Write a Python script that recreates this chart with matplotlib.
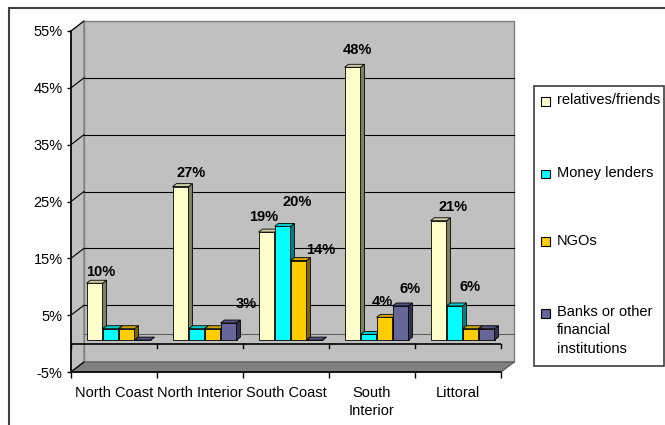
import numpy as np
import matplotlib.pyplot as plt
from matplotlib.patches import Polygon, Rectangle
from matplotlib.lines import Line2D

plt.rcParams['font.family'] = ['Liberation Sans', 'DejaVu Sans']

regions = ['North Coast', 'North Interior', 'South Coast', 'South\nInterior', 'Littoral']
sources = ['relatives/friends', 'Money lenders', 'NGOs',
           'Banks or other\nfinancial\ninstitutions']
relatives = [10, 27, 19, 48, 21]
lenders = [2, 2, 20, 1, 6]
ngos = [2, 2, 14, 4, 2]
banks = [0, 3, 0, 6, 2]
yticks = [-5, 5, 15, 25, 35, 45, 55]

series = [relatives, lenders, ngos, banks]
front = ['#FFFFCC', '#00FFFF', '#FFCC00', '#666699']
top = ['#CCCCA3', '#00CCCC', '#CCA300', '#52527A']
side = ['#808066', '#008080', '#806600', '#333350']

# bars that carry a value label -> label shift in pixels from the bar top
labelled = {(0, 0): (6, 11), (1, 0): (11, 14), (1, 3): (18, 19),
            (2, 0): (-3, 15), (2, 1): (15, 24), (2, 2): (22, 11),
            (3, 0): (5, 17), (3, 2): (-2, 15), (3, 3): (10, 17),
            (4, 0): (15, 14), (4, 1): (16, 19)}

FS = 10.5
W, H = 665, 425
fig = plt.figure(figsize=(W / 100, H / 100), dpi=100)
ax = fig.add_axes([71 / W, (H - 372) / H, 430 / W, 341 / H])
ax.set_xlim(0, 5)
ax.set_ylim(-5, 55)
ax.patch.set_visible(False)

# depth of the 3d box, in data units
kx = 13 / (430 / 5)
ky = 10 / (341 / 60)


def pt(x, y, d):
    return (x + d * kx, y + d * ky)


def face(pts, fc, ec='black', lw=0.6, z=2):
    ax.add_patch(Polygon(pts, closed=True, fc=fc, ec=ec, lw=lw, zorder=z,
                         clip_on=False))


# walls and floor
face([pt(0, -5, 1), pt(5, -5, 1), pt(5, 55, 1), pt(0, 55, 1)], '#C0C0C0', ec='#808080', lw=1, z=0)
face([pt(0, -5, 0), pt(0, -5, 1), pt(0, 55, 1), pt(0, 55, 0)], '#C0C0C0', ec='#808080', lw=1, z=0)
face([pt(0, -5, 0), pt(5, -5, 0), pt(5, -5, 1), pt(0, -5, 1)], '#808080', ec='#606060', lw=1, z=0)

for v in yticks:
    a, b = pt(0, v, 0), pt(0, v, 1)
    ax.plot([a[0], b[0]], [a[1], b[1]], color='black', lw=0.8, zorder=1, clip_on=False)
    if -5 < v < 55:
        a, b = pt(0, v, 1), pt(5, v, 1)
        ax.plot([a[0], b[0]], [a[1], b[1]], color='black', lw=0.8, zorder=1, clip_on=False)
a, b = pt(0, 0, 1), pt(5, 0, 1)
ax.plot([a[0], b[0]], [a[1], b[1]], color='#606060', lw=0.8, zorder=1, clip_on=False)

# category axis at zero
ax.axhline(0, color='black', lw=1.2, zorder=1)
for k in range(6):
    ax.plot([k, k], [0, -0.7], color='black', lw=1, zorder=1, clip_on=False)

# bars
w = 16 / 86
df, db = 0.35, 0.65
for i in range(len(regions)):
    for j, vals in enumerate(series):
        v = vals[i]
        x0 = i + (1 - 4 * w) / 2 + j * w
        x1 = x0 + w
        face([pt(x0, 0, df), pt(x1, 0, df), pt(x1, v, df), pt(x0, v, df)], front[j], z=3)
        face([pt(x1, 0, df), pt(x1, 0, db), pt(x1, v, db), pt(x1, v, df)], side[j], z=3)
        face([pt(x0, v, df), pt(x1, v, df), pt(x1, v, db), pt(x0, v, db)], top[j], z=3)
        if (i, j) in labelled:
            ax.annotate(f'{v}%', xy=pt(x0 + w / 2, v, df), xytext=labelled[(i, j)],
                        textcoords='offset pixels', ha='center', va='center',
                        fontsize=FS, fontweight='bold', zorder=5, annotation_clip=False)

# axes
for s in ['top', 'right']:
    ax.spines[s].set_visible(False)
ax.spines['left'].set_linewidth(1.2)
ax.spines['bottom'].set_linewidth(1.2)
ax.spines['left'].set_zorder(4)
ax.spines['bottom'].set_zorder(4)
ax.set_yticks(yticks)
ax.set_yticklabels([f'{v}%' for v in yticks], fontsize=FS)
ax.tick_params(axis='y', length=3, width=1, pad=3)
ax.set_xticks(np.arange(len(regions)) + 0.5)
ax.set_xticklabels(regions, fontsize=FS, linespacing=1.4)
ax.set_xticks(range(6), minor=True)
ax.tick_params(axis='x', which='major', length=0, pad=10)
ax.tick_params(axis='x', which='minor', length=4, width=1)

# legend
lx0, ly0, lx1, ly1 = 534, 86, 664, 366
fig.add_artist(Rectangle((lx0 / W, 1 - ly1 / H), (lx1 - lx0) / W, (ly1 - ly0) / H,
                         transform=fig.transFigure, fc='white', ec='#404040', lw=1.2))
rows = [101, 174, 242, 313]
for name, c, y in zip(sources, front, rows):
    fig.add_artist(Rectangle((541 / W, 1 - (y + 4.5) / H), 9 / W, 9 / H,
                             transform=fig.transFigure, fc=c, ec='black', lw=0.8))
    fig.text(557 / W, 1 - (y - 8) / H, name, fontsize=FS, va='top', ha='left',
             linespacing=1.4)

# chart frame
fig.add_artist(Line2D([9 / W, 9 / W], [0, 1 - 8 / H], transform=fig.transFigure,
                      color='#404040', lw=1.5))
fig.add_artist(Line2D([9 / W, 1], [1 - 8 / H, 1 - 8 / H], transform=fig.transFigure,
                      color='#404040', lw=1.5))

fig.savefig('out.png', dpi=100)
